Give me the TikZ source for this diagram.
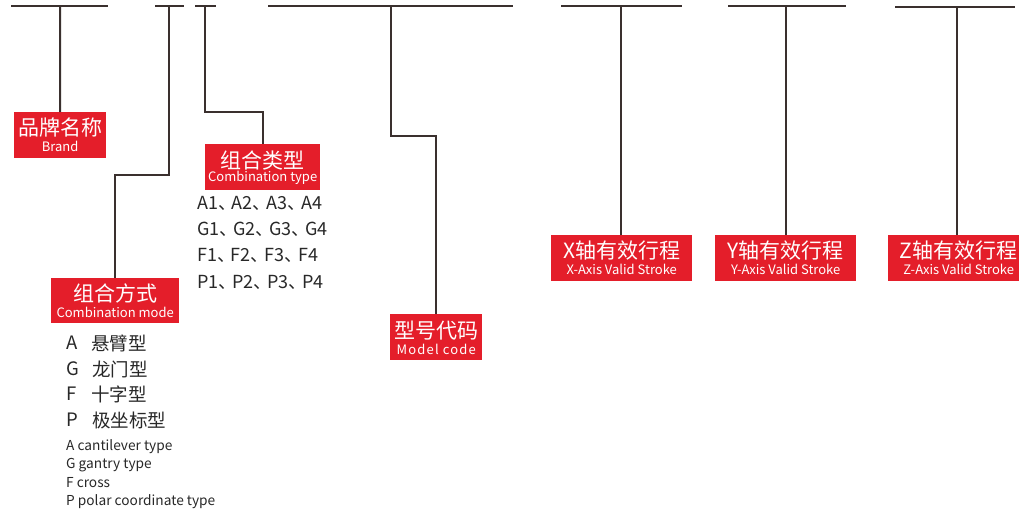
\documentclass[tikz,border=0pt]{standalone}
\usepackage{fontspec}
\setmainfont{Noto Sans CJK SC}
\definecolor{boxred}{RGB}{228,30,42}
\definecolor{linedark}{RGB}{58,48,46}
\definecolor{txtdark}{RGB}{40,40,40}
\newcommand{\dunhao}{\hbox to 13.7pt{、\hss}}
\tikzset{
  bar/.style={draw=linedark, line width=2pt},
  lead/.style={draw=linedark, line width=2pt},
  redbox/.style={fill=boxred, inner sep=0pt, anchor=north west},
  cjk/.style={text=white, font=\fontsize{21}{22}\selectfont, inner sep=0pt},
  eng/.style={text=white, font=\fontsize{13}{14}\selectfont, inner sep=0pt},
  listtxt/.style={text=txtdark, font=\fontsize{18}{20}\selectfont, inner sep=0pt, anchor=west},
  modetxt/.style={text=txtdark, font=\fontsize{18.5}{20}\selectfont, inner sep=0pt, anchor=west},
  smalltxt/.style={text=txtdark, font=\fontsize{13.7}{15}\selectfont, inner sep=0pt, anchor=west},
}
\begin{document}
\begin{tikzpicture}[x=1pt,y=-1pt]
\useasboundingbox[fill=white] (0,0) rectangle (1026,511);
% top bars
\draw[bar] (11,6) -- (108,6);
\draw[bar] (155,6) -- (184,6);
\draw[bar] (195,6) -- (216,6);
\draw[bar] (268,6) -- (513,6);
\draw[bar] (561,6) -- (682,6);
\draw[bar] (728,6) -- (846,6);
\draw[bar] (895,7) -- (1015,7);
\coordinate (t1) at (60,6);
\coordinate (t2) at (169,6);
\coordinate (t3) at (205,6);
\coordinate (t4) at (391,6);
\coordinate (t5) at (621,6);
\coordinate (t6) at (786,6);
\coordinate (t7) at (957,7);
\coordinate (b2) at (169,175);
\coordinate (b3) at (205,112);
\coordinate (b4) at (391,136);
% boxes
\node[redbox, minimum width=92, minimum height=46] (brand) at (14,112) {};
\node[redbox, minimum width=128, minimum height=45] (mode) at (51,278) {};
\node[redbox, minimum width=115, minimum height=46] (ctype) at (205,144) {};
\node[redbox, minimum width=92, minimum height=46] (model) at (390,314) {};
\node[redbox, minimum width=141, minimum height=46] (xs) at (551,235) {};
\node[redbox, minimum width=141, minimum height=46] (ys) at (715,235) {};
\node[redbox, minimum width=131, minimum height=46] (zs) at (888,235) {};
% box texts
\node[cjk] (brandc) at ([yshift=-16]brand.north) {品牌名称};
\node[eng] (brande) at ([yshift=-34]brand.north) {Brand};
\node[cjk] (modec) at ([yshift=-15]mode.north) {组合方式};
\node[eng] (modee) at ([yshift=-34]mode.north) {Combination mode};
\node[cjk] (ctypec) at ([yshift=-16]ctype.north) {组合类型};
\node[eng] (ctypee) at ([yshift=-34]ctype.north) {Combination type};
\node[cjk] (modelc) at ([yshift=-17]model.north) {型号代码};
\node[eng] (modele) at ([yshift=-35]model.north) {\addfontfeature{LetterSpace=9}Model code};
\node[cjk] (xsc) at ([yshift=-16]xs.north) {X轴有效行程};
\node[eng] (xse) at ([yshift=-34]xs.north) {X-Axis Valid Stroke};
\node[cjk] (ysc) at ([yshift=-16]ys.north) {Y轴有效行程};
\node[eng] (yse) at ([yshift=-34]ys.north) {Y-Axis Valid Stroke};
\node[cjk] (zsc) at ([xshift=5,yshift=-16]zs.north) {Z轴有效行程};
\node[eng] (zse) at ([xshift=5,yshift=-34]zs.north) {Z-Axis Valid Stroke};
% connectors
\draw[lead] (t1) -- (brand.north);
\draw[lead] (t2) -- (b2) -| (mode.north);
\draw[lead] (t3) -- (b3) -| (ctype.north);
\draw[lead] (t4) -- (b4) -| (model.north);
\draw[lead] (t5) -- (xs.north -| t5);
\draw[lead] (t6) -- (ys.north -| t6);
\draw[lead] (t7) -- (zs.north -| t7);
% combination type list
\node[listtxt] (l1) at (197,203) {A1\dunhao A2\dunhao A3\dunhao A4};
\node[listtxt] (l2) at (197,229) {G1\dunhao G2\dunhao G3\dunhao G4};
\node[listtxt] (l3) at (197,255) {F1\dunhao F2\dunhao F3\dunhao F4};
\node[listtxt] (l4) at (197,282) {P1\dunhao P2\dunhao P3\dunhao P4};
% combination mode list
\node[modetxt] (m1) at (66,343) {A};
\node[modetxt] (m1c) at (91,343) {悬臂型};
\node[modetxt] (m2) at (66,369) {G};
\node[modetxt] (m2c) at (92,369) {龙门型};
\node[modetxt] (m3) at (66,394) {F};
\node[modetxt] (m3c) at (91,394) {十字型};
\node[modetxt] (m4) at (66,420) {P};
\node[modetxt] (m4c) at (92,420) {极坐标型};
\node[smalltxt] (e1) at (66,447) {A cantilever type};
\node[smalltxt] (e2) at (66,465) {G gantry type};
\node[smalltxt] (e3) at (66,483) {F cross};
\node[smalltxt] (e4) at (66,502) {P polar coordinate type};
\end{tikzpicture}
\end{document}
